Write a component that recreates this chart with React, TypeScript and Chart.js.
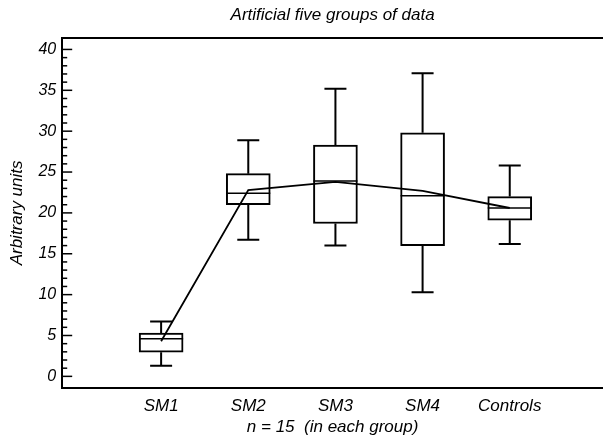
import React, { useEffect, useRef } from 'react';
import { Chart, registerables } from 'chart.js';

Chart.register(...registerables);

const categories = ['SM1', 'SM2', 'SM3', 'SM4', 'Controls'];
const whiskerLow = [1.3, 16.7, 16.0, 10.3, 16.2];
const q1 = [2.95, 21.0, 18.7, 16.0, 19.1];
const medians = [4.6, 22.4, 23.9, 22.1, 20.6];
const q3 = [5.3, 24.8, 28.3, 29.8, 22.0];
const whiskerHigh = [6.7, 28.9, 35.2, 37.1, 25.8];
const means = [4.3, 22.8, 23.8, 22.7, 20.6];
const yTickValues = [0, 5, 10, 15, 20, 25, 30, 35, 40];

const FONT = "'Liberation Sans', Arial, Helvetica, sans-serif";

const boxPlugin = {
  id: 'boxExtras',
  beforeDatasetsDraw(chart: any) {
    const { ctx, chartArea, scales } = chart;
    const xs = scales.x;
    const ys = scales.y;
    ctx.save();
    ctx.strokeStyle = '#000';
    ctx.lineCap = 'butt';
    // whiskers
    ctx.lineWidth = 2;
    categories.forEach((_, i) => {
      const x = xs.getPixelForValue(i + 1);
      const yHi = ys.getPixelForValue(whiskerHigh[i]);
      const yQ3 = ys.getPixelForValue(q3[i]);
      const yQ1 = ys.getPixelForValue(q1[i]);
      const yLo = ys.getPixelForValue(whiskerLow[i]);
      ctx.beginPath();
      ctx.moveTo(x, yQ3);
      ctx.lineTo(x, yHi);
      ctx.moveTo(x - 11, yHi);
      ctx.lineTo(x + 11, yHi);
      ctx.moveTo(x, yQ1);
      ctx.lineTo(x, yLo);
      ctx.moveTo(x - 11, yLo);
      ctx.lineTo(x + 11, yLo);
      ctx.stroke();
    });
    // inward y ticks
    ctx.lineWidth = 1.5;
    const lo = Math.ceil(ys.min);
    const hi = Math.floor(ys.max);
    for (let v = Math.max(lo, 0); v <= Math.min(hi, 40); v++) {
      const y = ys.getPixelForValue(v);
      const len = v % 5 === 0 ? 10 : 5;
      ctx.beginPath();
      ctx.moveTo(chartArea.left, y);
      ctx.lineTo(chartArea.left + len, y);
      ctx.stroke();
    }
    // top frame line
    ctx.lineWidth = 2;
    ctx.beginPath();
    ctx.moveTo(chartArea.left - 1, chartArea.top);
    ctx.lineTo(chartArea.right, chartArea.top);
    ctx.stroke();
    ctx.restore();
  },
  afterDatasetDraw(chart: any, args: any) {
    if (args.index !== 0) return;
    const { ctx, scales } = chart;
    const xs = scales.x;
    const ys = scales.y;
    ctx.save();
    ctx.strokeStyle = '#000';
    ctx.lineWidth = 1.6;
    categories.forEach((_, i) => {
      const x = xs.getPixelForValue(i + 1);
      const y = ys.getPixelForValue(medians[i]);
      ctx.beginPath();
      ctx.moveTo(x - 22, y);
      ctx.lineTo(x + 22, y);
      ctx.stroke();
    });
    ctx.restore();
  },
};

export default function App() {
  const ref = useRef<HTMLCanvasElement | null>(null);

  useEffect(() => {
    document.body.style.margin = '0';
    const canvas = ref.current;
    if (!canvas) return;
    const chart = new Chart(canvas, {
      type: 'bar',
      data: {
        datasets: [
          {
            type: 'bar',
            data: categories.map((_, i) => ({ x: i + 1, y: [q1[i], q3[i]] })) as any,
            backgroundColor: '#fff',
            borderColor: '#000',
            borderWidth: 2,
            borderSkipped: false,
            barThickness: 44,
            order: 1,
          } as any,
          {
            type: 'line',
            data: means.map((m, i) => ({ x: i + 1, y: m })) as any,
            borderColor: '#000',
            borderWidth: 1.8,
            pointRadius: 0,
            fill: false,
            tension: 0,
            order: 0,
          } as any,
        ],
      },
      options: {
        responsive: false,
        animation: false,
        devicePixelRatio: 1,
        layout: { padding: { left: 6, right: 0, top: 0, bottom: 4 } },
        plugins: {
          legend: { display: false },
          tooltip: { enabled: false },
          title: {
            display: true,
            text: 'Artificial five groups of data',
            fullSize: false,
            color: '#000',
            font: { family: FONT, size: 17, style: 'italic', weight: 'normal' },
            padding: { top: 5, bottom: 12.6 },
          },
        },
        scales: {
          x: {
            type: 'linear',
            offset: false,
            min: -0.135,
            max: 6.07,
            grid: { display: false, drawTicks: false, offset: false },
            border: { display: true, color: '#000', width: 2 },
            afterBuildTicks: (scale: any) => {
              scale.ticks = categories.map((_, i) => ({ value: i + 1 }));
            },
            ticks: {
              autoSkip: false,
              maxRotation: 0,
              color: '#000',
              padding: 7.8,
              font: { family: FONT, size: 17, style: 'italic' },
              callback: (v: any) => categories[Math.round(Number(v)) - 1] ?? '',
            },
            title: {
              display: true,
              text: 'n = 15  (in each group)',
              color: '#000',
              font: { family: FONT, size: 17, style: 'italic' },
              padding: { top: -7.2, bottom: 0 },
            },
          },
          y: {
            type: 'linear',
            min: -1.4,
            max: 41.4,
            grid: { display: false, drawTicks: false },
            border: { display: true, color: '#000', width: 2 },
            afterBuildTicks: (scale: any) => {
              scale.ticks = yTickValues.map((v) => ({ value: v }));
            },
            ticks: {
              color: '#000',
              padding: 6,
              font: { family: FONT, size: 16, style: 'italic' },
              callback: (v: any) => String(v),
            },
            title: {
              display: true,
              text: 'Arbitrary units',
              color: '#000',
              font: { family: FONT, size: 17, style: 'italic' },
              padding: { top: 1, bottom: 5 },
            },
          },
        },
      } as any,
      plugins: [boxPlugin],
    });
    return () => chart.destroy();
  }, []);

  return (
    <div style={{ width: 603, height: 441, background: '#fff' }}>
      <canvas ref={ref} width={603} height={441} />
    </div>
  );
}
